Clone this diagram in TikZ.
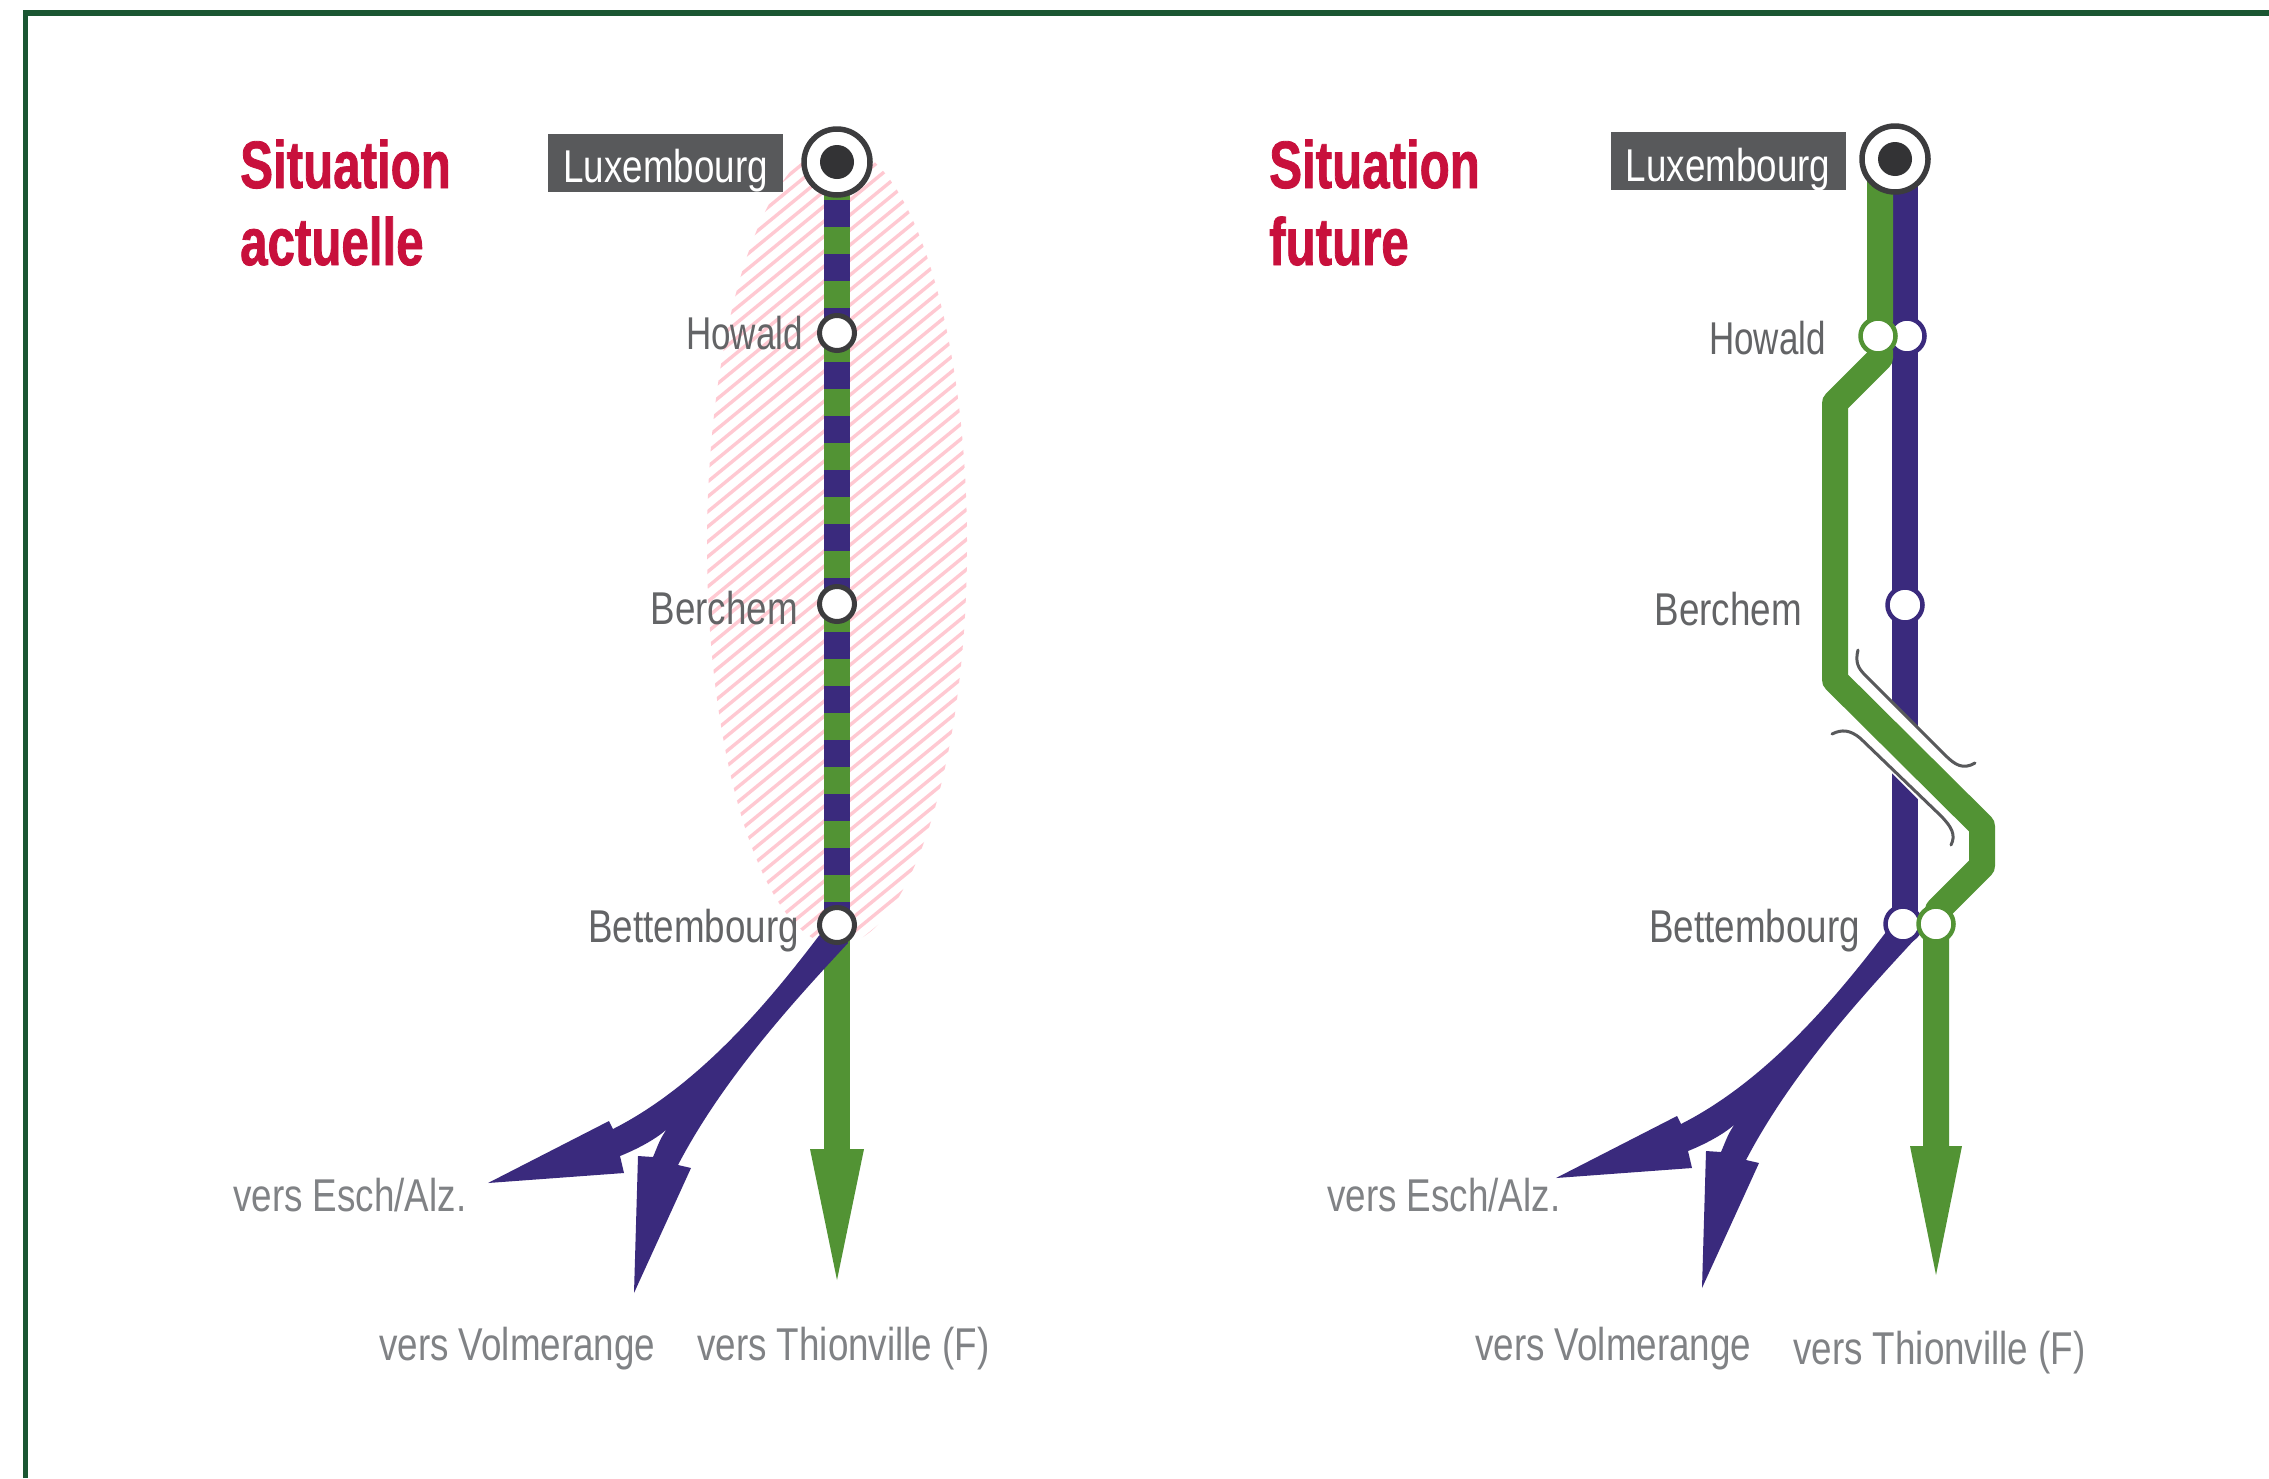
\documentclass[tikz,border=0pt]{standalone}
\usepackage{fontspec}
\setmainfont[FakeStretch=0.80]{Liberation Sans}
\newfontfamily\boldcond[FakeStretch=0.735,FakeBold=1.2]{Liberation Sans Bold}
\newfontfamily\narrowface[FakeStretch=0.76]{Liberation Sans}
\definecolor{rblue}{HTML}{3A2A7D}
\definecolor{rgreen}{HTML}{529334}
\definecolor{rpink}{HTML}{FFC9D2}
\definecolor{rred}{HTML}{C8103C}
\definecolor{rbox}{HTML}{58595B}
\definecolor{rtext}{HTML}{636466}
\definecolor{rvers}{HTML}{808285}
\definecolor{rring}{HTML}{3C3C3E}
\definecolor{rframe}{HTML}{1A5632}
\tikzset{
  x=1pt,y=-1pt,
  railblue/.style={draw=rblue,line width=26pt,line cap=butt,line join=round},
  railgreen/.style={draw=rgreen,line width=26pt,line cap=butt,line join=round},
  headblue/.style={fill=rblue,draw=none},
  headgreen/.style={fill=rgreen,draw=none},
  stop/.style={circle,fill=white,draw=rring,line width=5pt,minimum size=35pt,inner sep=0pt},
  terminal/.style={circle,fill=white,draw=rring,line width=5.5pt,minimum size=66pt,inner sep=0pt},
  termdot/.style={circle,fill=rring!85!black,draw=none,minimum size=34pt,inner sep=0pt},
  lbl/.style={font=\fontsize{46}{46}\selectfont,text=rtext,inner sep=0pt},
  vers/.style={font=\fontsize{46}{46}\selectfont,text=rvers,inner sep=0pt},
  lux/.style={fill=rbox,font=\fontsize{46}{46}\selectfont,text=white,inner sep=0pt,minimum width=235pt,minimum height=58pt},
  title/.style={font=\boldcond\fontsize{67}{67}\selectfont,text=rred,inner sep=0pt},
  bridge/.style={draw=rbox,line width=3pt,line cap=round},
}
\newcommand{\blueFork}{%
  \fill[headblue] (818,937) .. controls (770,1000) and (700,1085) .. (613,1129)
     -- (609,1121) -- (488,1183) -- (624,1173) -- (620,1156)
     .. controls (635,1150) and (655,1140) .. (667,1129)
     .. controls (660,1138) and (657,1148) .. (653,1157)
     -- (638,1156) -- (634,1293) -- (691,1168) -- (678,1165)
     .. controls (725,1075) and (800,995) .. (848,943)
     -- (837,915) -- cycle;
}
\begin{document}
\begin{tikzpicture}
\useasboundingbox (0,0) rectangle (2269,1478);
\fill[white] (0,0) rectangle (2269,1478);
% frame
\draw[rframe,line width=5.5pt] (25.5,1478) -- (25.5,13) -- (2269,13);

% ---------- left: hatch
\begin{scope}
  \clip (837,545) ellipse [x radius=130,y radius=400];
  \foreach \k in {0,...,95}
    \draw[rpink,line width=3.4pt] (600,{330+15*\k}) -- ++(500,-410);
\end{scope}

\coordinate (Lneck) at (837,1149);
\coordinate (Ltip) at (837,1280);
\coordinate (Lstripe) at (837,200);
\coordinate (Lstripeend) at (837,929);
\coordinate (Lbet) at (837,925);
\coordinate (Llux) at (837,162);

\draw[railgreen] (Llux) -- (Lneck);
\draw[railblue,dash pattern=on 27pt off 27pt] (Lstripe) -- (Lstripeend);
\fill[headgreen] (810,1149) -- (Ltip) -- (864,1149) -- cycle;
\blueFork

\node[terminal] (luxL) at (Llux) {};
\node[termdot] (luxLd) at (Llux) {};
\node[stop] (howL) at (837,333) {};
\node[stop] (berL) at (837,604) {};
\node[stop] (betL) at (Lbet) {};

\node[lux] (boxL) at (665.5,162.5) {};
\node[lux,fill=none,anchor=base,minimum height=0pt,minimum width=0pt] (boxLt) at (665.5,182) {Luxembourg};
\node[lbl,anchor=base east] (tHowL) at (803,349) {\narrowface Howald};
\node[lbl,anchor=base east] (tBerL) at (798,624) {Berchem};
\node[lbl,anchor=base east] (tBetL) at (799,942) {Bettembourg};
\node[vers,anchor=base west] (tEschL) at (233,1211) {vers Esch/Alz.};
\node[vers,anchor=base west] (tVolL) at (379,1360) {vers Volmerange};
\node[vers,anchor=base west] (tThiL) at (697,1360) {vers Thionville (F)};
\node[title,anchor=base west] (ttlL1) at (240,188) {Situation};
\node[title,anchor=base west] (ttlL2) at (240,265) {actuelle};

% ---------- right
\coordinate (Rlux) at (1895,159);
\coordinate (Rbtop) at (1905,159);
\coordinate (Rbbot) at (1905,925);
\coordinate (Rg0) at (1880,159);
\coordinate (Rg1) at (1880,358);
\coordinate (Rg2) at (1835,403);
\coordinate (Rg3) at (1835,680);
\coordinate (Rg4) at (1982,826);
\coordinate (Rg5) at (1982,866);
\coordinate (Rg6) at (1938,910);
\coordinate (Rg7) at (1936,925);
\coordinate (Rg8) at (1936,1146);
\coordinate (Rtip) at (1936,1275);
\coordinate (Rw0) at (1860,705);
\coordinate (Rw1) at (1950,795);

\draw[railblue] (Rbtop) -- (Rbbot);
\begin{scope}[shift={(1068,-5)}]
  \blueFork
\end{scope}
\draw[white,line width=51pt] (Rw0) -- (Rw1);
\draw[railgreen] (Rg0) -- (Rg1) -- (Rg2) -- (Rg3) -- (Rg4) -- (Rg5) -- (Rg6) -- (Rg7) -- (Rg8);
\fill[headgreen] (1910,1146) -- (Rtip) -- (1962,1146) -- cycle;

\draw[bridge] (1858,650) .. controls (1855,662) and (1858,668) .. (1865,675)
   -- (1945,755) .. controls (1955,765) and (1963,770) .. (1975,763);
\draw[bridge] (1832,734) .. controls (1842,729) and (1850,730) .. (1860,738)
   -- (1940,815) .. controls (1952,827) and (1956,835) .. (1951,845);

\node[terminal] (luxR) at (Rlux) {};
\node[termdot] (luxRd) at (Rlux) {};
\node[stop,draw=rblue,line width=4.5pt] (howRb) at (1907,336) {};
\node[stop,draw=rgreen,line width=4.5pt] (howRg) at (1878,336) {};
\node[stop,draw=rblue,line width=4.5pt] (berR) at (1905,605) {};
\node[stop,draw=rblue,line width=4.5pt] (betRb) at (1903,924) {};
\node[stop,draw=rgreen,line width=4.5pt] (betRg) at (1936,924) {};

\node[lux] (boxR) at (1728,161) {};
\node[lux,fill=none,anchor=base,minimum height=0pt,minimum width=0pt] (boxRt) at (1728,181) {Luxembourg};
\node[lbl,anchor=base east] (tHowR) at (1826,354) {\narrowface Howald};
\node[lbl,anchor=base east] (tBerR) at (1802,625) {Berchem};
\node[lbl,anchor=base east] (tBetR) at (1860,942) {Bettembourg};
\node[vers,anchor=base west] (tEschR) at (1327,1211) {vers Esch/Alz.};
\node[vers,anchor=base west] (tVolR) at (1475,1360) {vers Volmerange};
\node[vers,anchor=base west] (tThiR) at (1793,1364) {vers Thionville (F)};
\node[title,anchor=base west] (ttlR1) at (1269,188) {Situation};
\node[title,anchor=base west] (ttlR2) at (1269,265) {future};
\end{tikzpicture}
\end{document}
